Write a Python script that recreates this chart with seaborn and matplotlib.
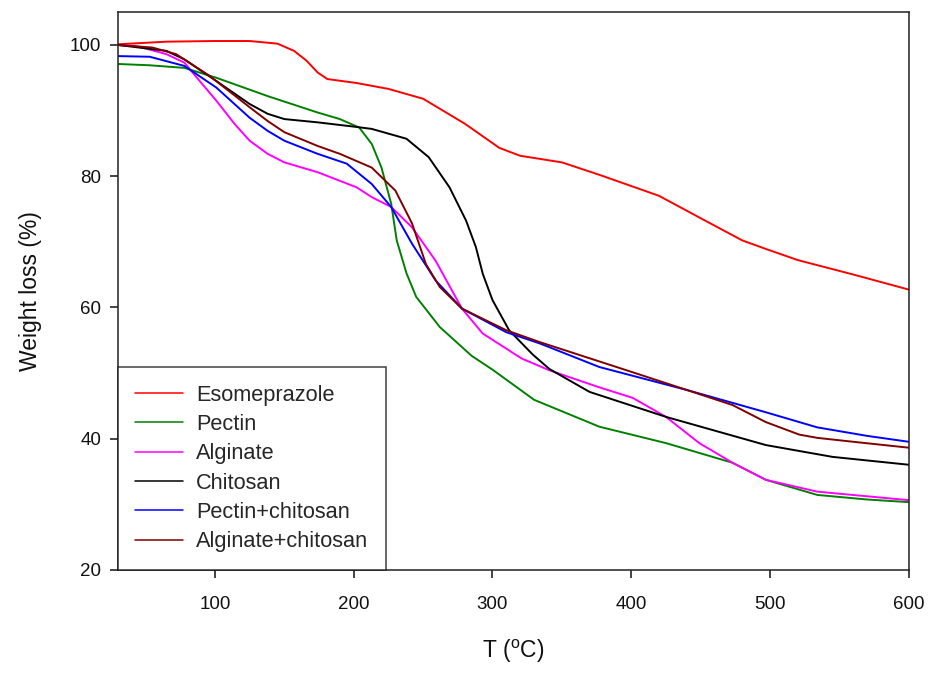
import pandas as pd
import matplotlib
matplotlib.use("Agg")
import matplotlib.pyplot as plt
import seaborn as sns

# ── Data ───────────────────────────────────────────────────────
eso_t = [30, 65, 100, 125, 145, 157, 166, 174, 181, 202, 225, 250, 280, 305,
         320, 350, 377, 420, 449, 480, 497, 520, 560, 600]
eso_w = [100.1, 100.5, 100.6, 100.6, 100.2, 99.1, 97.6, 95.8, 94.8, 94.2, 93.3,
         91.8, 88.0, 84.3, 83.1, 82.1, 80.2, 77.0, 73.7, 70.2, 68.9, 67.2, 65.0, 62.7]

pec_t = [30, 53, 78, 101, 138, 174, 190, 204, 213, 220, 227, 231, 238, 245,
         262, 285, 300, 330, 377, 425, 473, 497, 534, 570, 600]
pec_w = [97.1, 96.9, 96.5, 95.0, 92.2, 89.7, 88.7, 87.4, 84.9, 81.3, 75.8, 70.2,
         65.2, 61.6, 57.0, 52.6, 50.5, 45.9, 41.8, 39.3, 36.3, 33.7, 31.4, 30.7, 30.3]

alg_t = [30, 44, 65, 78, 89, 101, 114, 125, 138, 150, 174, 202, 213, 227,
         242, 259, 278, 293, 321, 341, 377, 401, 425, 449, 473, 497, 534, 600]
alg_w = [100.0, 99.8, 98.6, 97.3, 94.5, 91.5, 88.0, 85.4, 83.4, 82.1, 80.6, 78.3,
         76.8, 75.3, 72.2, 67.1, 59.8, 56.0, 52.2, 50.4, 47.8, 46.2, 43.3, 39.3,
         36.3, 33.7, 31.9, 30.6]

chi_t = [30, 65, 78, 101, 125, 138, 150, 174, 202, 213, 238, 254, 269, 281,
         288, 293, 300, 312, 329, 341, 370, 425, 497, 545, 600]
chi_w = [100.0, 99.1, 97.8, 94.5, 91.0, 89.5, 88.7, 88.2, 87.5, 87.2, 85.7, 82.9,
         78.3, 73.2, 69.2, 65.1, 61.1, 56.5, 52.8, 50.6, 47.1, 43.3, 39.0, 37.2, 36.0]

pch_t = [30, 53, 78, 101, 125, 138, 150, 174, 195, 213, 227, 242, 259, 278,
         310, 334, 377, 440, 497, 534, 570, 600]
pch_w = [98.3, 98.2, 96.8, 93.5, 88.9, 86.9, 85.4, 83.4, 81.9, 78.8, 75.3, 69.7,
         64.1, 59.8, 56.2, 54.5, 50.9, 47.4, 44.0, 41.7, 40.4, 39.5]

ach_t = [30, 55, 72, 96, 125, 138, 150, 174, 190, 213, 230, 242, 252, 262,
         278, 310, 334, 353, 401, 440, 473, 497, 521, 534, 560, 600]
ach_w = [100.0, 99.6, 98.6, 95.3, 90.5, 88.4, 86.7, 84.6, 83.4, 81.3, 77.8, 72.8,
         66.6, 63.1, 59.8, 56.5, 54.7, 53.4, 50.1, 47.4, 45.1, 42.5, 40.6, 40.1,
         39.5, 38.6]

series = [
    ("Esomeprazole", eso_t, eso_w, "#ff0000"),
    ("Pectin", pec_t, pec_w, "#008000"),
    ("Alginate", alg_t, alg_w, "#ff00ff"),
    ("Chitosan", chi_t, chi_w, "#000000"),
    ("Pectin+chitosan", pch_t, pch_w, "#0000ff"),
    ("Alginate+chitosan", ach_t, ach_w, "#800000"),
]

sns.set_theme(style="ticks")
plt.rcParams.update({
    "font.family": ["Liberation Sans", "DejaVu Sans"],
    "mathtext.fontset": "custom",
    "mathtext.rm": "Liberation Sans",
    "mathtext.it": "Liberation Sans:italic",
    "axes.edgecolor": "#222222",
    "axes.linewidth": 1.1,
    "xtick.direction": "out",
    "ytick.direction": "out",
    "lines.solid_joinstyle": "round",
})

fig = plt.figure(figsize=(9.35, 6.75), dpi=100)
ax = fig.add_axes([0.126, 0.156, 0.846, 0.826])

for name, t, w, color in series:
    df = pd.DataFrame({"T": t, "W": w})
    sns.lineplot(data=df, x="T", y="W", color=color, linewidth=1.4,
                 sort=False, label=name, ax=ax)

ax.set_xlim(30, 600)
ax.set_ylim(20, 105)
ax.set_xticks([100, 200, 300, 400, 500, 600])
ax.set_yticks([20, 40, 60, 80, 100])
ax.tick_params(axis="x", labelsize=13.5, length=6, width=1.1, pad=13, colors="#111111")
ax.tick_params(axis="y", labelsize=13.5, length=6, width=1.1, pad=6, colors="#111111")
ax.set_xlabel(r"T ($\mathrm{^{o}}$C)", fontsize=16.5, labelpad=18, color="#111111")
ax.set_ylabel("Weight loss (%)", fontsize=16.5, labelpad=20, color="#111111")

leg = ax.legend(loc="lower left", bbox_to_anchor=(0, 0), borderaxespad=0,
                fontsize=15.7, frameon=True, fancybox=False, handlelength=2.2,
                handletextpad=0.6, labelspacing=0.38, borderpad=0.8)
leg.get_frame().set_edgecolor("#111111")
leg.get_frame().set_linewidth(1.1)
for line in leg.get_lines():
    line.set_linewidth(1.1)

fig.savefig("out.png", dpi=100)
